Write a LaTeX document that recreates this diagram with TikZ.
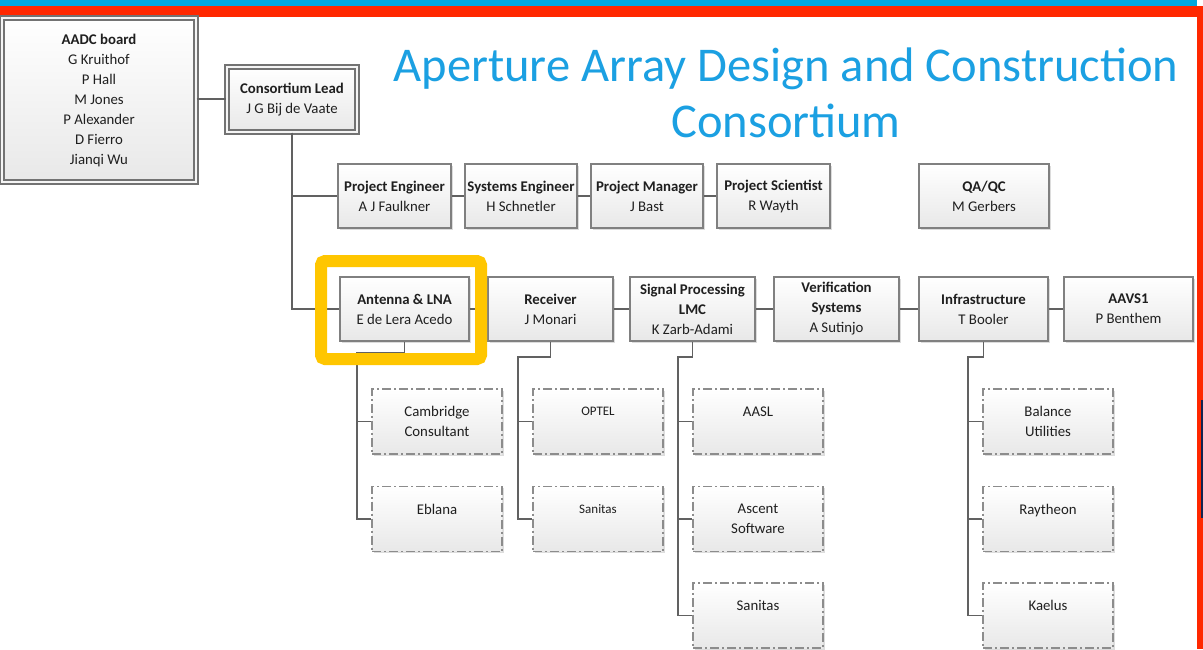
\documentclass[tikz,border=0pt]{standalone}
\usepackage{fontspec}
\setmainfont{Carlito}
\usetikzlibrary{shadows}
\definecolor{topblue}{RGB}{0,168,224}
\definecolor{topred}{RGB}{255,40,0}
\definecolor{titleblue}{RGB}{27,160,226}
\definecolor{hlyellow}{RGB}{255,198,0}
\definecolor{navy}{RGB}{20,35,80}
\newcommand\boxfont{\fontsize{14.8}{20}\selectfont}
\newcommand\smallboxfont{\fontsize{13}{20}\selectfont}
\tikzset{
  conn/.style={draw=black!62, line width=1.3},
  box/.style={draw=black!50, line width=1.2, top color=white, bottom color=black!9,
    align=center, font=\boxfont, text=black!88, inner sep=1,
    drop shadow={shadow xshift=1.5pt, shadow yshift=-1.5pt, fill=black!30, opacity=0.45}},
  dbox/.style={box, draw=black!55, line width=1.3, double=black!4, double distance=2.6},
  subbox/.style={box, draw=black!45, line width=1.5, dash pattern=on 9pt off 3pt on 2pt off 3pt,
    minimum width=130, minimum height=65},
  rowone/.style={box, minimum height=64},
  rowtwo/.style={box, minimum height=64},
}
\begin{document}
\begin{tikzpicture}[x=1pt,y=-1pt]
\useasboundingbox (0,0) rectangle (1203,649);
\fill[white] (0,0) rectangle (1203,649);
% top bars and right border
\fill[topblue] (0,0) rectangle (1197,6);
\fill[topred] (0,6) rectangle (1203,17);
\fill[topred] (1197,6) rectangle (1203,649);
\fill[navy] (1201,400) rectangle (1203,518);

% title
\node[font=\fontsize{48.5}{56}\selectfont, text=titleblue, align=center] (title) at (786,93)
  {Aperture Array Design and Construction\\Consortium};

% top nodes
\node[dbox, minimum width=194, minimum height=164] (aadc) at (99,100)
  {\textbf{AADC board}\\G Kruithof\\P Hall\\M Jones\\P Alexander\\D Fierro\\Jianqi Wu};
\node[dbox, minimum width=130, minimum height=65] (cl) at (292,99.5)
  {\textbf{Consortium Lead}\\J G Bij de Vaate};

% row 1
\node[rowone, minimum width=113] (pe) at (394.5,196) {\textbf{Project Engineer}\\A J Faulkner};
\node[rowone, minimum width=112] (se) at (521,196) {\textbf{Systems Engineer}\\H Schnetler};
\node[rowone, minimum width=112] (pm) at (647,196) {\textbf{Project Manager}\\J Bast};
\node[rowone, minimum width=113] (ps) at (773.5,196) {\textbf{Project Scientist}\\R Wayth};
\node[rowone, minimum width=130] (qa) at (984,196) {\textbf{QA/QC}\\M Gerbers};

% row 2
\node[rowtwo, minimum width=129] (ant) at (404.5,309) {\textbf{Antenna \& LNA}\\E de Lera Acedo};
\node[rowtwo, minimum width=125] (rx) at (550.5,309) {\textbf{Receiver}\\J Monari};
\node[rowtwo, minimum width=125] (sp) at (692.5,309) {\textbf{Signal Processing}\\\textbf{LMC}\\K Zarb-Adami};
\node[rowtwo, minimum width=125] (vs) at (836.5,309) {\textbf{Verification}\\\textbf{Systems}\\A Sutinjo};
\node[rowtwo, minimum width=129] (inf) at (983.5,309) {\textbf{Infrastructure}\\T Booler};
\node[rowtwo, minimum width=129] (aavs) at (1128.5,309) {\textbf{AAVS1}\\P Benthem};

% subcontractors
\node[subbox] (cc) at (437,421.5) {Cambridge\\Consultant};
\node[subbox] (eb) at (437,519) {Eblana\\\mbox{}};
\node[subbox, font=\smallboxfont] (op) at (598,421.5) {OPTEL\\\mbox{}};
\node[subbox, font=\smallboxfont] (sa1) at (598,519) {Sanitas\\\mbox{}};
\node[subbox] (aasl) at (758,421.5) {AASL\\\mbox{}};
\node[subbox] (asc) at (758,519) {Ascent\\Software};
\node[subbox] (sa2) at (758,615.5) {Sanitas\\\mbox{}};
\node[subbox] (bal) at (1048,421.5) {Balance\\Utilities};
\node[subbox] (ray) at (1048,519) {Raytheon\\\mbox{}};
\node[subbox] (kae) at (1048,615.5) {Kaelus\\\mbox{}};

% connectors
\draw[conn] (aadc.east |- 0,99) -- (cl.west |- 0,99);
\draw[conn] (cl.south) |- (pe.west);
\draw[conn] (cl.south) |- (ant.west);
\draw[conn] (pe.east) -- (se.west);
\draw[conn] (se.east) -- (pm.west);
\draw[conn] (pm.east) -- (ps.west);
\draw[conn] (ant.east) -- (rx.west);
\draw[conn] (rx.east) -- (sp.west);
\draw[conn] (sp.east) -- (vs.west);
\draw[conn] (vs.east) -- (inf.west);
\draw[conn] (inf.east) -- (aavs.west);

\coordinate (antbus) at (357,353);
\coordinate (rxbus) at (518,357);
\coordinate (spbus) at (678,357);
\coordinate (infbus) at (968,357);

\draw[conn] (ant.south) |- (antbus) |- (eb.west);
\draw[conn] (antbus |- cc.west) -- (cc.west);
\draw[conn] (rx.south) |- (rxbus) |- (sa1.west);
\draw[conn] (rxbus |- op.west) -- (op.west);
\draw[conn] (sp.south) |- (spbus) |- (sa2.west);
\draw[conn] (spbus |- aasl.west) -- (aasl.west);
\draw[conn] (spbus |- asc.west) -- (asc.west);
\draw[conn] (inf.south) |- (infbus) |- (kae.west);
\draw[conn] (infbus |- bal.west) -- (bal.west);
\draw[conn] (infbus |- ray.west) -- (ray.west);

% highlight
\draw[hlyellow, line width=12, rounded corners=4] (321,261) rectangle (481,359);
\end{tikzpicture}
\end{document}
